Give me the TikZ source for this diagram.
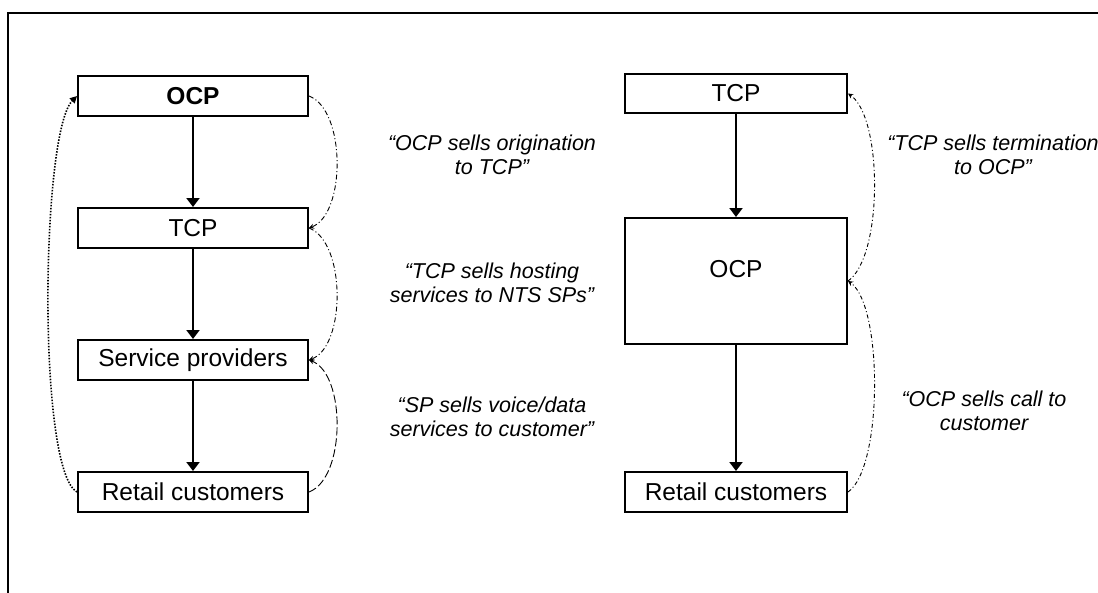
\documentclass[tikz,border=0pt]{standalone}
\usepackage{fontspec}
\setmainfont{Liberation Sans}
\usetikzlibrary{arrows.meta,calc}
\tikzset{
  party/.style={draw, line width=2pt, inner sep=0pt, minimum height=40pt,
                font=\fontsize{24.5}{28}\selectfont},
  leftbox/.style={party, minimum width=230pt},
  rightbox/.style={party, minimum width=222pt},
  flow/.style={line width=2pt, -{Triangle[width=13pt,length=9pt]}},
  sale/.style={line width=0.9pt, -{Stealth[width=5pt,length=5pt]}},
  dashdot/.style={sale, dash pattern=on 5pt off 2.5pt on 1pt off 2.5pt},
  finedashdot/.style={sale, dash pattern=on 4pt off 2.5pt on 1pt off 2.5pt},
  longdash/.style={sale, dash pattern=on 8pt off 3pt},
  note/.style={align=center, font=\fontsize{21.5}{24.5}\selectfont\itshape}
}
\begin{document}
\begin{tikzpicture}[x=1pt, y=-1pt]
\useasboundingbox (0,0) rectangle (1098,592);
% outer frame (top and left edges)
\draw[line width=2pt] (8,600) -- (8,13) -- (1110,13);

% left chain
\node[leftbox, font=\fontsize{24.5}{28}\selectfont\bfseries] (locp) at (193,96) {OCP};
\node[leftbox] (ltcp) at (193,228) {TCP};
\node[leftbox] (lsp)  at (193,360) {Service providers};
\node[leftbox] (lrc)  at (193,492) {Retail customers};

\draw[flow] (locp) -- (ltcp);
\draw[flow] (ltcp) -- (lsp);
\draw[flow] (lsp) -- (lrc);

\draw[dashdot] (locp.east) .. controls ($(locp.east)+(37,14)$) and ($(ltcp.east)+(37,-14)$) .. (ltcp.east);
\draw[dashdot] (ltcp.east) .. controls ($(ltcp.east)+(37,14)$) and ($(lsp.east)+(37,-14)$) .. (lsp.east);
\draw[longdash] (lrc.east) .. controls ($(lrc.east)+(37,-14)$) and ($(lsp.east)+(37,14)$) .. (lsp.east);
\draw[line width=1.6pt, dash pattern=on 1.5pt off 1.5pt, -{Triangle[width=7pt,length=7pt]}]
  (lrc.west) .. controls ($(lrc.west)+(-40,-22)$) and ($(locp.west)+(-36,36)$) .. (locp.west);

% right chain
\node[rightbox, minimum height=39pt] (rtcp) at (736,93.5) {TCP};
\node[rightbox, minimum height=126pt] (rocp) at (736,281) {};
\node[font=\fontsize{24.5}{28}\selectfont] (rocplabel) at ($(rocp.center)+(0,-12)$) {OCP};
\node[rightbox] (rrc) at (736,492) {Retail customers};

\draw[flow] (rtcp) -- (rocp);
\draw[flow] (rocp) -- (rrc);

\draw[finedashdot] (rocp.east) .. controls ($(rocp.east)+(35,-24)$) and ($(rtcp.east)+(35,24)$) .. (rtcp.east);
\draw[finedashdot] (rrc.east) .. controls ($(rrc.east)+(35,-24)$) and ($(rocp.east)+(35,24)$) .. (rocp.east);

% descriptions of each sale
\node[note] (n1) at (492,155) {“OCP sells origination\\to TCP”};
\node[note] (n2) at (492,283) {“TCP sells hosting\\services to NTS SPs”};
\node[note] (n3) at (492,417) {“SP sells voice/data\\services to customer”};
\node[note] (n4) at (993,155) {“TCP sells termination\\to OCP”};
\node[note] (n5) at (984,411) {“OCP sells call to\\customer};
\end{tikzpicture}
\end{document}
